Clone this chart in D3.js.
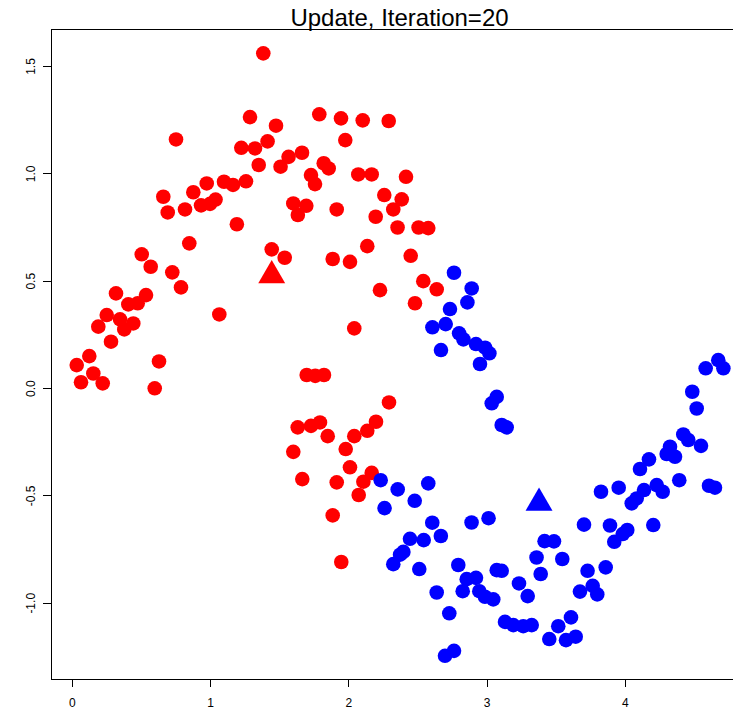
<!DOCTYPE html>
<html>
<head>
<meta charset="utf-8">
<script src="https://cdn.jsdelivr.net/npm/d3@7"></script>
<style>
  body { margin: 0; background: #fff; }
  svg { display: block; font-family: "Liberation Sans", Arial, Helvetica, sans-serif; }
</style>
</head>
<body>
<svg id="chart" width="733" height="710"></svg>
<script>
// cluster 1 (red) points, [x, y]
var redPts = [
  [1.385, 1.559], [0.754, 1.158], [1.289, 1.262], [1.477, 1.222], [1.416, 1.149],
  [1.226, 1.119], [1.325, 1.116], [1.352, 1.039], [1.510, 1.031], [1.568, 1.077],
  [1.665, 1.096], [1.790, 1.275], [1.947, 1.256], [2.104, 1.247], [2.292, 1.244],
  [1.978, 1.155], [1.822, 1.047], [1.858, 1.023], [1.730, 0.992], [1.759, 0.950],
  [2.072, 0.995], [2.169, 0.995], [2.417, 0.984], [2.260, 0.899], [2.386, 0.879],
  [2.325, 0.832], [2.198, 0.798], [2.356, 0.748], [2.508, 0.748], [2.578, 0.745],
  [1.916, 0.832], [1.602, 0.860], [1.696, 0.849], [1.635, 0.806], [0.976, 0.953],
  [1.101, 0.961], [1.166, 0.946], [1.260, 0.963], [0.879, 0.912], [0.662, 0.891],
  [1.040, 0.878], [1.000, 0.858], [0.935, 0.851], [0.694, 0.818], [0.819, 0.832],
  [1.194, 0.763], [0.850, 0.674], [1.446, 0.646], [1.540, 0.607], [0.506, 0.623],
  [0.571, 0.565], [0.727, 0.539], [0.790, 0.469], [0.320, 0.441], [0.537, 0.433],
  [0.477, 0.395], [0.409, 0.390], [0.253, 0.340], [0.349, 0.320], [0.445, 0.301],
  [0.380, 0.273], [0.192, 0.286], [0.284, 0.216], [1.067, 0.343], [0.127, 0.149],
  [0.036, 0.107], [0.156, 0.068], [0.067, 0.027], [0.224, 0.022], [0.631, 0.124],
  [0.600, -0.001], [1.887, 0.601], [2.012, 0.588], [2.137, 0.661], [2.451, 0.616],
  [2.229, 0.456], [2.542, 0.498], [2.639, 0.460], [2.482, 0.395], [2.043, 0.278],
  [1.699, 0.061], [1.761, 0.057], [1.824, 0.061], [2.294, -0.067], [1.634, -0.183],
  [1.730, -0.176], [1.795, -0.160], [1.851, -0.224], [2.043, -0.224], [2.137, -0.199],
  [2.200, -0.157], [1.602, -0.297], [1.981, -0.284], [2.012, -0.369], [2.169, -0.395],
  [2.109, -0.436], [1.667, -0.424], [1.916, -0.439], [2.075, -0.498], [1.887, -0.593],
  [1.949, -0.810]
];

// cluster 2 (blue) points, [x, y]
var bluePts = [
  [2.764, 0.537], [2.892, 0.464], [2.861, 0.399], [2.735, 0.368], [2.704, 0.298],
  [2.608, 0.283], [2.801, 0.255], [2.832, 0.227], [2.923, 0.205], [2.989, 0.188],
  [3.020, 0.162], [2.670, 0.177], [2.952, 0.112], [3.073, -0.041], [3.037, -0.071],
  [3.109, -0.172], [3.145, -0.183], [2.234, -0.429], [2.357, -0.472], [2.578, -0.444],
  [2.480, -0.525], [2.262, -0.559], [2.607, -0.627], [2.891, -0.626], [3.014, -0.606],
  [2.446, -0.702], [2.545, -0.708], [2.669, -0.689], [2.398, -0.763], [2.374, -0.776],
  [3.704, -0.636], [2.325, -0.820], [2.513, -0.843], [2.795, -0.824], [2.856, -0.890],
  [2.923, -0.884], [2.827, -0.946], [2.639, -0.952], [2.947, -0.946], [2.988, -0.972],
  [3.048, -0.984], [2.730, -1.049], [3.073, -0.848], [3.109, -0.851], [3.234, -0.910],
  [3.297, -0.969], [3.361, -0.789], [3.391, -0.866], [3.419, -0.713], [3.487, -0.714],
  [3.547, -0.796], [3.133, -1.089], [3.193, -1.104], [3.265, -1.109], [3.326, -1.104],
  [3.610, -1.068], [3.518, -1.109], [3.453, -1.169], [3.574, -1.174], [3.644, -1.158],
  [3.730, -0.851], [3.675, -0.948], [3.767, -0.921], [3.800, -0.961], [2.764, -1.224],
  [2.699, -1.247], [4.675, 0.130], [4.712, 0.092], [4.584, 0.092], [4.487, -0.017],
  [4.519, -0.095], [4.422, -0.216], [4.458, -0.242], [4.550, -0.269], [4.326, -0.273],
  [4.302, -0.307], [4.362, -0.320], [4.174, -0.332], [4.109, -0.377], [4.393, -0.429],
  [4.608, -0.455], [4.651, -0.464], [4.230, -0.452], [4.273, -0.483], [4.138, -0.475],
  [4.085, -0.514], [4.049, -0.537], [3.955, -0.464], [3.827, -0.483], [3.892, -0.640],
  [4.017, -0.661], [3.984, -0.680], [3.923, -0.716], [4.205, -0.638], [3.861, -0.835]
];

// cluster centres after iteration 20
var centers = [
  {x: 1.446, y: 0.524, col: "#ff0000"},
  {x: 3.379, y: -0.535, col: "#0000ff"}
];

var xTicks = [0, 1, 2, 3, 4];
var yTicks = [-1.0, -0.5, 0.0, 0.5, 1.0, 1.5];
var title = "Update, Iteration=20";

(function () {
    var svg = d3.select("#chart");
    var m = {left: 51, right: 748, top: 29.3, bottom: 679};

    var x = d3.scaleLinear().domain([-0.15, 4.89]).range([m.left, m.right]);
    var y = d3.scaleLinear().domain([-1.355, 1.671]).range([m.bottom, m.top]);

    // points
    svg.append("g").selectAll("circle").data(redPts).enter().append("circle")
        .attr("cx", d => x(d[0])).attr("cy", d => y(d[1])).attr("r", 7.3)
        .attr("fill", "#ff0000");
    svg.append("g").selectAll("circle").data(bluePts).enter().append("circle")
        .attr("cx", d => x(d[0])).attr("cy", d => y(d[1])).attr("r", 7.3)
        .attr("fill", "#0000ff");

    // filled triangles like R pch 17
    var s = 10;
    var tri = "M0," + (-1.5551 * s) + "L" + (1.3468 * s) + "," + (0.7776 * s) + "L" + (-1.3468 * s) + "," + (0.7776 * s) + "Z";
    svg.append("g").selectAll("path").data(centers).enter().append("path")
        .attr("d", tri)
        .attr("transform", d => "translate(" + x(d.x) + "," + y(d.y) + ")")
        .attr("fill", d => d.col);

    // box
    svg.append("rect")
        .attr("x", m.left).attr("y", m.top)
        .attr("width", m.right - m.left).attr("height", m.bottom - m.top)
        .attr("fill", "none").attr("stroke", "#000").attr("stroke-width", 1)
        .attr("shape-rendering", "crispEdges");

    // axes
    var xAxis = svg.append("g")
        .attr("transform", "translate(0," + m.bottom + ")")
        .call(d3.axisBottom(x).tickValues(xTicks).tickSize(8).tickSizeOuter(0).tickFormat(d => d));
    xAxis.select(".domain").remove();
    xAxis.selectAll("line").attr("shape-rendering", "crispEdges");
    xAxis.selectAll("text").attr("y", 28).attr("dy", null)
        .attr("font-size", 12).attr("font-family", "Liberation Sans, Arial, sans-serif").attr("fill", "#000");

    var yAxis = svg.append("g")
        .attr("transform", "translate(" + m.left + ",0)")
        .call(d3.axisLeft(y).tickValues(yTicks).tickSize(8).tickSizeOuter(0).tickFormat(d => d.toFixed(1)));
    yAxis.select(".domain").remove();
    yAxis.selectAll("line").attr("shape-rendering", "crispEdges");
    yAxis.selectAll("text")
        .attr("x", null).attr("dy", null)
        .attr("text-anchor", "middle")
        .attr("transform", "translate(-16.5,0) rotate(-90)")
        .attr("font-size", 12).attr("font-family", "Liberation Sans, Arial, sans-serif").attr("fill", "#000");

    svg.append("text")
        .attr("x", (m.left + m.right) / 2).attr("y", 26)
        .attr("text-anchor", "middle")
        .attr("font-size", 24)
        .attr("fill", "#000")
        .text(title);
})();
</script>
</body>
</html>
